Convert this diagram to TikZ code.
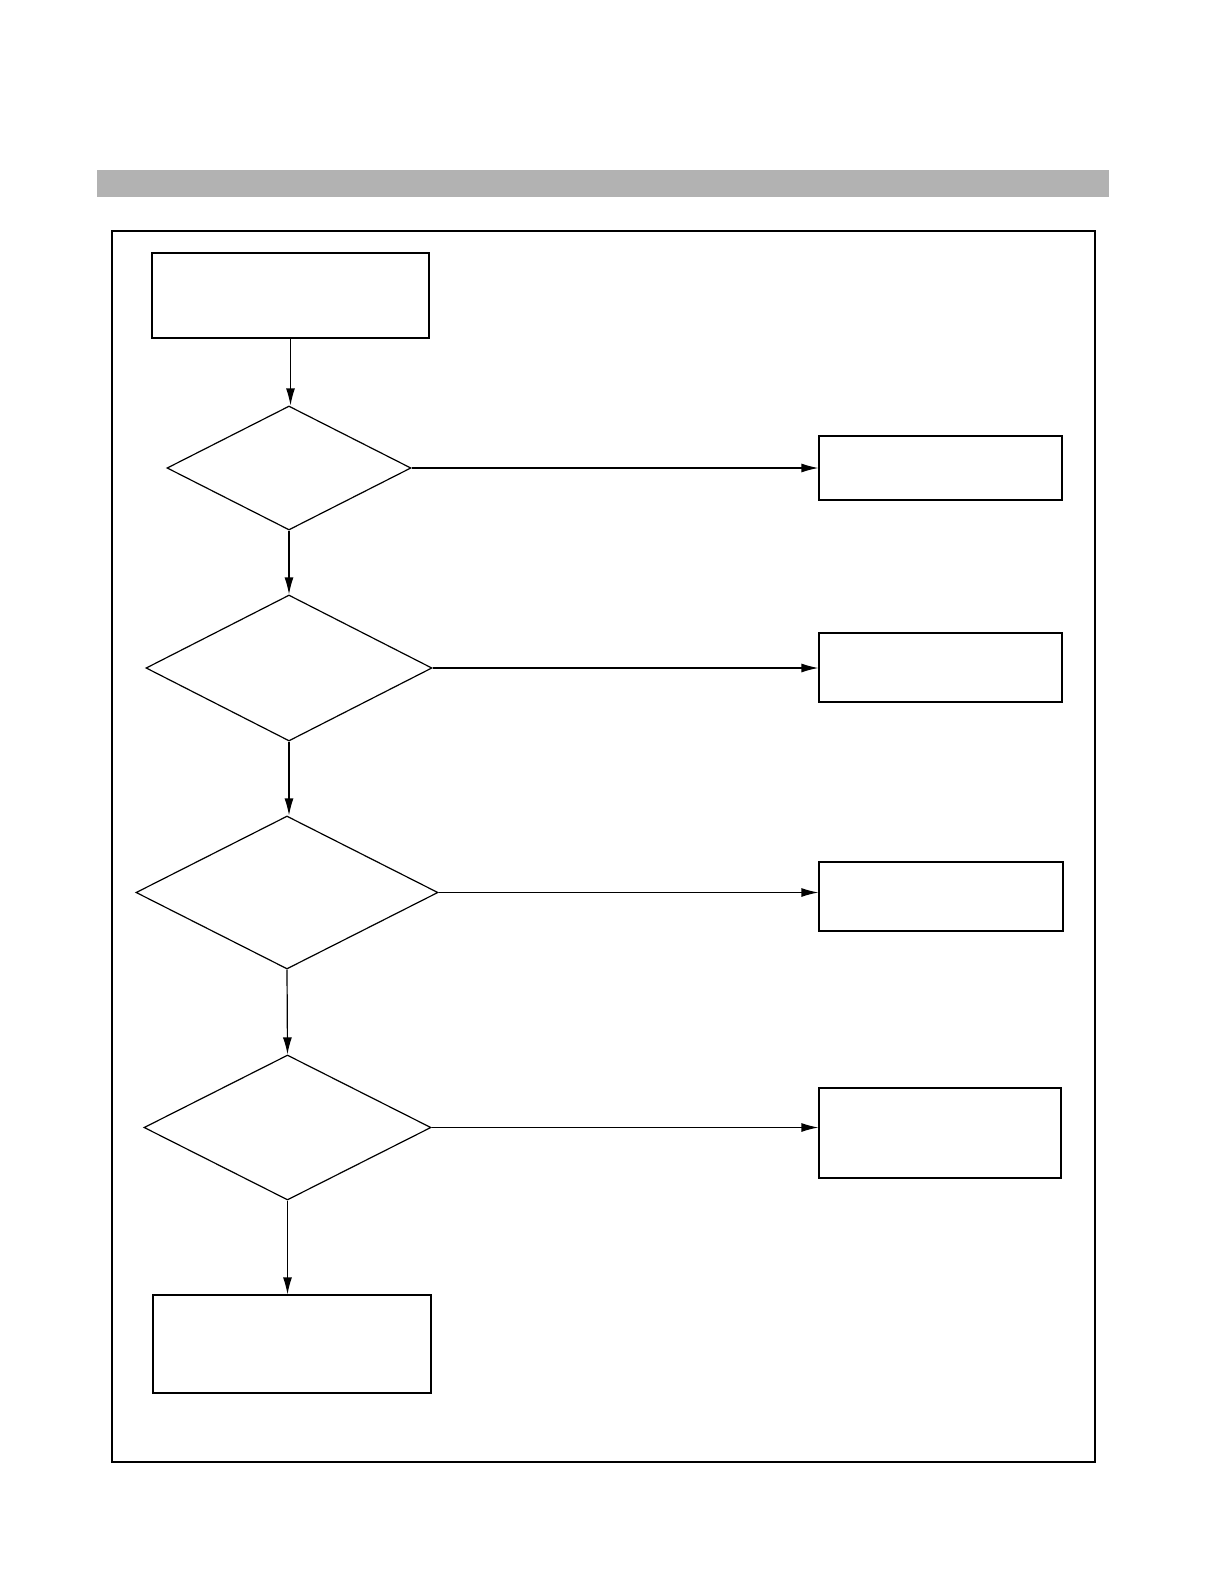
\documentclass[tikz,border=0pt]{standalone}
\usepackage{tikz}
\usetikzlibrary{positioning,shapes.geometric,calc}
\usetikzlibrary{arrows.meta}
\tikzset{step box/.style={rectangle,draw,line width=0.6pt,inner sep=0pt},
  test node/.style={diamond,draw,line width=0.6pt,inner sep=0pt},
  flow/.style={line width=0.6pt,-{Latex[length=8.5pt,width=4.5pt]}}}

\begin{document}
\begin{tikzpicture}[x=0.5pt,y=-0.5pt]
      \useasboundingbox (0,0) rectangle (1224,1584);
      \fill[black!30] (97,170) rectangle (1109,197);
      \draw[line width=0.6pt] (112,231) rectangle (1095,1462);
      % main column
      \node[step box,minimum width=138.5pt,minimum height=42.5pt] (start) at (290.5,295.5) {};
      \node[test node,minimum width=122pt,minimum height=62pt] (t1) at (289,468) {};
      \node[test node,minimum width=143pt,minimum height=73pt] (t2) at (289,668) {};
      \node[test node,minimum width=151pt,minimum height=76.5pt] (t3) at (287,892.5) {};
      \node[test node,minimum width=143.5pt,minimum height=72.5pt] (t4) at (287.5,1127.5) {};
      \node[step box,minimum width=139pt,minimum height=49pt] (end) at (292,1344) {};
      % right column
      \node[step box,minimum width=121.5pt,minimum height=32pt] (r1) at (940.5,468) {};
      \node[step box,minimum width=121.5pt,minimum height=34.5pt] (r2) at (940.5,667.5) {};
      \node[step box,minimum width=122pt,minimum height=34.5pt] (r3) at (941,896.5) {};
      \node[step box,minimum width=121pt,minimum height=45pt] (r4) at (940,1133) {};
      \draw[flow] (start.south) -- (start.south |- t1.north);
      \draw[flow] (t1.south) -- (t2.north);
      \draw[flow] (t2.south) -- (t2.south |- t3.north);
      \draw[flow] (t3.south) -- (t4.north);
      \draw[flow] (t4.south) -- (t4.south |- end.north);
      \foreach \i in {1,...,4}
        \draw[flow] (t\i.east) -- (t\i.east -| r\i.west);
    \end{tikzpicture}
\end{document}
